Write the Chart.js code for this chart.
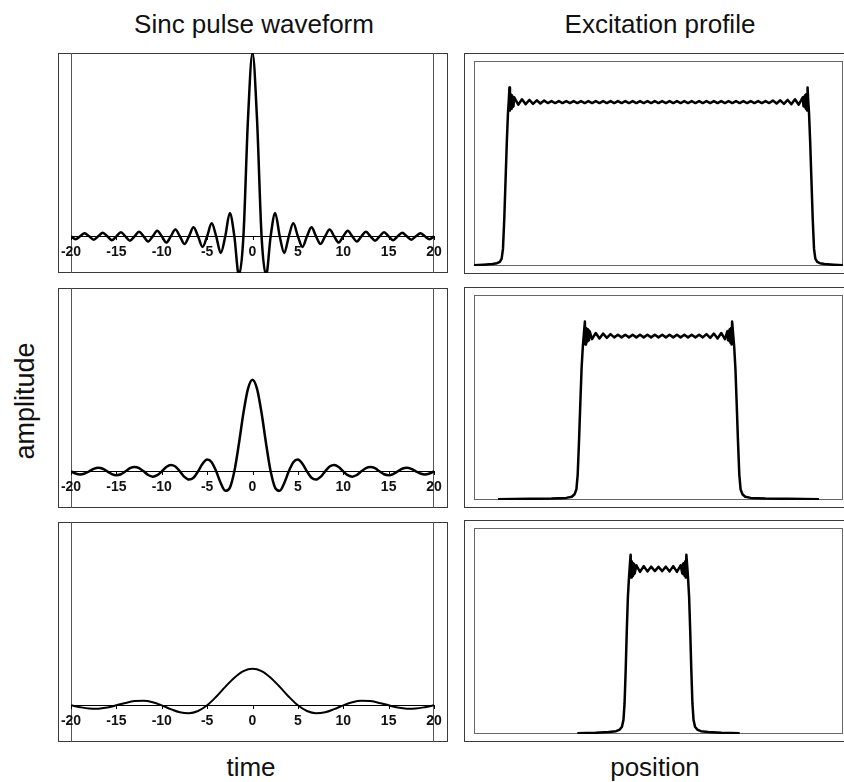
<!DOCTYPE html>
<html>
<head>
<meta charset="UTF-8" />
<title>Sinc pulse and excitation profile</title>
<style>
  body { margin: 0; background: #fff; }
  #page { position: relative; width: 844px; height: 782px; overflow: hidden; background: #fff;
          font-family: "Liberation Sans", Arial, sans-serif; color: #111; }
  canvas { position: absolute; }
  .lbl { position: absolute; font-size: 26px; line-height: 26px; white-space: nowrap; transform: translateX(-50%); }
  .ylbl { position: absolute; font-size: 27px; line-height: 27px; white-space: nowrap;
          transform: translate(-50%, -50%) rotate(-90deg); }
</style>
</head>
<body>
<div id="page">
  <div class="lbl" style="left:254px; top:11px">Sinc pulse waveform</div>
  <div class="lbl" style="left:660px; top:11px">Excitation profile</div>
  <div class="ylbl" style="left:25px; top:401px">amplitude</div>
  <div class="lbl" style="left:251px; top:754px">time</div>
  <div class="lbl" style="left:655px; top:754px">position</div>

  <canvas id="L1" width="410" height="230" style="left:50px; top:48px"></canvas>
  <canvas id="L2" width="410" height="230" style="left:50px; top:283px"></canvas>
  <canvas id="L3" width="410" height="230" style="left:50px; top:517px"></canvas>
  <canvas id="R1" width="389" height="231" style="left:455px; top:48px"></canvas>
  <canvas id="R2" width="389" height="231" style="left:455px; top:282px"></canvas>
  <canvas id="R3" width="389" height="232" style="left:455px; top:515px"></canvas>
</div>

<script src="https://cdn.jsdelivr.net/npm/chart.js"></script>
<script>
// time axis (left column)
const timeTicks = [-20, -15, -10, -5, 0, 5, 10, 15, 20];
const tFine = [-20, -19.5, -19, -18.5, -18, -17.5, -17, -16.5, -16, -15.5, -15, -14.5, -14, -13.5, -13, -12.5,
  -12, -11.5, -11, -10.5, -10, -9.5, -9, -8.5, -8, -7.5, -7, -6.5, -6, -5.5, -5, -4.5, -4, -3.5, -3, -2.5,
  -2, -1.5, -1, -0.5, 0, 0.5, 1, 1.5, 2, 2.5, 3, 3.5, 4, 4.5, 5, 5.5, 6, 6.5, 7, 7.5, 8, 8.5, 9, 9.5,
  10, 10.5, 11, 11.5, 12, 12.5, 13, 13.5, 14, 14.5, 15, 15.5, 16, 16.5, 17, 17.5, 18, 18.5, 19, 19.5, 20];
const tCoarse = [-20, -19, -18, -17, -16, -15, -14, -13, -12, -11, -10, -9, -8, -7, -6, -5, -4, -3, -2, -1,
  0, 1, 2, 3, 4, 5, 6, 7, 8, 9, 10, 11, 12, 13, 14, 15, 16, 17, 18, 19, 20];

// sinc pulses
const sincWide = [0, -0.016, 0, 0.017, 0, -0.018, 0, 0.019, 0, -0.021, 0, 0.022, 0, -0.024, 0, 0.025,
  0, -0.028, 0, 0.030, 0, -0.034, 0, 0.037, 0, -0.042, 0, 0.049, 0, -0.058, 0, 0.071, 0, -0.091, 0, 0.127,
  0, -0.212, 0, 0.637, 1, 0.637, 0, -0.212, 0, 0.127, 0, -0.091, 0, 0.071, 0, -0.058, 0, 0.049, 0, -0.042,
  0, 0.037, 0, -0.034, 0, 0.030, 0, -0.028, 0, 0.025, 0, -0.024, 0, 0.022, 0, -0.021, 0, 0.019, 0, -0.018,
  0, 0.017, 0, -0.016, 0];
const sincMid = [0, -0.012, -0.017, -0.012, 0, 0.013, 0.019, 0.014, 0, -0.015, -0.021, -0.016, 0, 0.017, 0.024, 0.018,
  0, -0.020, -0.029, -0.021, 0, 0.024, 0.035, 0.026, 0, -0.030, -0.045, -0.035, 0, 0.041, 0.064, 0.050,
  0, -0.064, -0.106, -0.090, 0, 0.150, 0.318, 0.450, 0.5, 0.450, 0.318, 0.150, 0, -0.090, -0.106, -0.064,
  0, 0.050, 0.064, 0.041, 0, -0.035, -0.045, -0.030, 0, 0.026, 0.035, 0.024, 0, -0.021, -0.029, -0.020,
  0, 0.018, 0.024, 0.017, 0, -0.016, -0.021, -0.015, 0, 0.014, 0.019, 0.013, 0, -0.012, -0.017, -0.012, 0];
const sincNarrow = [0, -0.010, -0.017, -0.018, -0.012, 0, 0.013, 0.023, 0.025, 0.017, 0, -0.021, -0.038, -0.043, -0.031,
  0, 0.047, 0.101, 0.151, 0.187, 0.2, 0.187, 0.151, 0.101, 0.047, 0, -0.031, -0.043, -0.038, -0.021,
  0, 0.017, 0.025, 0.023, 0.013, 0, -0.012, -0.018, -0.017, -0.010, 0];

// excitation profiles (right column)
const posR1 = [-1.0, -0.95, -0.9, -0.875, -0.86, -0.85, -0.843, -0.836, -0.829, -0.822, -0.816, -0.811, -0.808,
  -0.805, -0.802, -0.799, -0.796, -0.793, -0.79, -0.786, -0.782,
  -0.76, -0.74, -0.72, -0.7, -0.68, -0.66, -0.64, -0.62, -0.6, -0.58, -0.56, -0.54, -0.52, -0.5, -0.48, -0.46,
  -0.44, -0.42, -0.4, -0.38, -0.36, -0.34, -0.32, -0.3, -0.28, -0.26, -0.24, -0.22, -0.2, -0.18, -0.16, -0.14,
  -0.12, -0.1, -0.08, -0.06, -0.04, -0.02, 0, 0.02, 0.04, 0.06, 0.08, 0.1, 0.12, 0.14, 0.16, 0.18, 0.2, 0.22,
  0.24, 0.26, 0.28, 0.3, 0.32, 0.34, 0.36, 0.38, 0.4, 0.42, 0.44, 0.46, 0.48, 0.5, 0.52, 0.54, 0.56, 0.58, 0.6,
  0.62, 0.64, 0.66, 0.68, 0.7, 0.72, 0.74, 0.76,
  0.782, 0.786, 0.79, 0.793, 0.796, 0.799, 0.802, 0.805, 0.808, 0.811, 0.816, 0.822, 0.829, 0.836, 0.843, 0.85,
  0.86, 0.875, 0.9, 0.95, 1.0];
const ampR1 = [0, 0.003, 0.007, 0.012, 0.02, 0.04, 0.1, 0.28, 0.52, 0.76, 0.93, 1.02, 1.09,
  0.95, 1.05, 0.96, 1.045, 0.97, 1.035, 0.975, 1.03,
  0.985, 1.018, 0.988, 1.014, 0.99, 1.012, 0.992, 1.01,
  0.995, 1.007, 0.995, 1.007, 0.995, 1.007, 0.995, 1.007, 0.995, 1.007,
  0.995, 1.007, 0.995, 1.007, 0.995, 1.007, 0.995, 1.007, 0.995, 1.007,
  0.995, 1.007, 0.995, 1.007, 0.995, 1.007, 0.995, 1.007, 0.995, 1.007,
  0.995, 1.007, 0.995, 1.007, 0.995, 1.007, 0.995, 1.007, 0.995, 1.007,
  0.995, 1.007, 0.995, 1.007, 0.995, 1.007, 0.995, 1.007, 0.995, 1.007,
  0.995, 1.007, 0.995, 1.007, 0.995, 1.007, 0.995, 1.007, 0.995, 1.007,
  0.995,
  1.01, 0.992, 1.012, 0.99, 1.014, 0.988, 1.018, 0.985,
  1.03, 0.975, 1.035, 0.97, 1.045, 0.96, 1.05, 0.95, 1.09, 1.02, 0.93, 0.76, 0.52, 0.28, 0.1, 0.04,
  0.02, 0.012, 0.007, 0.003, 0];

const posR2 = [-0.87, -0.7, -0.58, -0.5, -0.47, -0.455, -0.445, -0.438, -0.431, -0.424, -0.417, -0.41, -0.404,
  -0.399, -0.396, -0.393, -0.39, -0.387, -0.384, -0.381, -0.377, -0.373,
  -0.36, -0.34, -0.32, -0.3, -0.28, -0.26, -0.24, -0.22, -0.2, -0.18, -0.16, -0.14, -0.12, -0.1, -0.08, -0.06,
  -0.04, -0.02, 0, 0.02, 0.04, 0.06, 0.08, 0.1, 0.12, 0.14, 0.16, 0.18, 0.2, 0.22, 0.24, 0.26, 0.28, 0.3,
  0.32, 0.34, 0.36,
  0.373, 0.377, 0.381, 0.384, 0.387, 0.39, 0.393, 0.396, 0.399, 0.404, 0.41, 0.417, 0.424, 0.431, 0.438,
  0.445, 0.455, 0.47, 0.5, 0.58, 0.7, 0.87];
const ampR2 = [0, 0.002, 0.004, 0.008, 0.015, 0.03, 0.06, 0.15, 0.35, 0.58, 0.8, 0.94, 1.02,
  1.09, 0.95, 1.05, 0.96, 1.045, 0.97, 1.035, 0.975, 1.03,
  0.982, 1.02, 0.986, 1.016, 0.99, 1.013,
  0.993, 1.009, 0.993, 1.009, 0.993, 1.009, 0.993, 1.009, 0.993, 1.009, 0.993, 1.009,
  0.993, 1.009, 0.993, 1.009, 0.993, 1.009, 0.993, 1.009, 0.993, 1.009, 0.993, 1.009, 0.993,
  1.013, 0.99, 1.016, 0.986, 1.02, 0.982,
  1.03, 0.975, 1.035, 0.97, 1.045, 0.96, 1.05, 0.95, 1.09, 1.02, 0.94, 0.8, 0.58, 0.35, 0.15,
  0.06, 0.03, 0.015, 0.008, 0.004, 0.002, 0];

const posR3 = [-0.44, -0.34, -0.27, -0.23, -0.21, -0.198, -0.19, -0.184, -0.178, -0.172, -0.166, -0.16, -0.155,
  -0.151, -0.148, -0.145, -0.142, -0.139, -0.136, -0.133, -0.129,
  -0.12, -0.1, -0.08, -0.06, -0.04, -0.02, 0, 0.02, 0.04, 0.06, 0.08, 0.1, 0.12,
  0.129, 0.133, 0.136, 0.139, 0.142, 0.145, 0.148, 0.151, 0.155, 0.16, 0.166, 0.172, 0.178, 0.184, 0.19,
  0.198, 0.21, 0.23, 0.27, 0.34, 0.44];
const ampR3 = [0, 0.003, 0.007, 0.012, 0.022, 0.04, 0.08, 0.18, 0.38, 0.62, 0.83, 0.95, 1.03,
  1.09, 0.95, 1.05, 0.96, 1.04, 0.97, 1.035, 0.975,
  1.025, 0.985, 1.02, 0.988, 1.017, 0.99, 1.016, 0.99, 1.017, 0.988, 1.02, 0.985, 1.025,
  0.975, 1.035, 0.97, 1.04, 0.96, 1.05, 0.95, 1.09, 1.03, 0.95, 0.83, 0.62, 0.38, 0.18, 0.08,
  0.04, 0.022, 0.012, 0.007, 0.003, 0];

function points(xs, ys) {
  return xs.map((v, i) => ({ x: v, y: ys[i] }));
}

// frame, zero line and time ticks for the pulse panels
const sincFrame = {
  id: 'sincFrame',
  beforeDatasetsDraw(chart) {
    const { ctx, chartArea: a, scales: { y } } = chart;
    ctx.save();
    ctx.lineWidth = 1;
    ctx.strokeStyle = '#3a3a3a';
    ctx.strokeRect(a.left - 12.5, a.top + 0.5, a.right - a.left + 26, a.bottom - a.top - 1);
    ctx.strokeStyle = '#555';
    ctx.beginPath();
    ctx.moveTo(a.left + 0.5, a.top); ctx.lineTo(a.left + 0.5, a.bottom);
    ctx.moveTo(a.right - 0.5, a.top); ctx.lineTo(a.right - 0.5, a.bottom);
    ctx.stroke();
    const y0 = Math.round(y.getPixelForValue(0)) + 0.5;
    ctx.strokeStyle = '#000';
    ctx.beginPath();
    ctx.moveTo(a.left, y0); ctx.lineTo(a.right, y0);
    ctx.stroke();
    ctx.restore();
  },
  afterDatasetsDraw(chart) {
    const { ctx, scales: { x, y } } = chart;
    const y0 = Math.round(y.getPixelForValue(0));
    ctx.save();
    ctx.fillStyle = '#111';
    ctx.strokeStyle = '#000';
    ctx.font = 'bold 14px "Liberation Sans", Arial, sans-serif';
    ctx.textAlign = 'center';
    ctx.textBaseline = 'middle';
    timeTicks.forEach(t => {
      const px = x.getPixelForValue(t);
      ctx.beginPath();
      ctx.moveTo(Math.round(px) + 0.5, y0); ctx.lineTo(Math.round(px) + 0.5, y0 + 4);
      ctx.stroke();
      ctx.fillText(String(t), px, y0 + 16);
    });
    ctx.restore();
  }
};

// double frame for the profile panels
const profileFrame = {
  id: 'profileFrame',
  beforeDatasetsDraw(chart) {
    const { ctx, chartArea: a } = chart;
    ctx.save();
    ctx.lineWidth = 1;
    ctx.strokeStyle = '#3a3a3a';
    ctx.strokeRect(a.left - 9.5, a.top - 7.5, a.right - a.left + 30, a.bottom - a.top + 15);
    ctx.strokeStyle = '#666';
    ctx.strokeRect(a.left + 0.5, a.top + 0.5, a.right - a.left - 1, a.bottom - a.top - 1);
    ctx.restore();
  }
};

function sincChart(id, times, values, width) {
  return new Chart(document.getElementById(id), {
    type: 'line',
    data: { datasets: [{ data: points(times, values), borderColor: '#000', borderWidth: width,
      pointRadius: 0, cubicInterpolationMode: 'monotone', borderJoinStyle: 'round', fill: false }] },
    options: {
      responsive: false, animation: false, events: [],
      layout: { padding: { left: 21, right: 26, top: 5, bottom: 5 } },
      plugins: { legend: { display: false }, tooltip: { enabled: false } },
      scales: {
        x: { type: 'linear', min: -20, max: 20, display: false },
        y: { min: -0.2, max: 1.0, display: false }
      }
    },
    plugins: [sincFrame]
  });
}

function profileChart(id, pos, amp) {
  return new Chart(document.getElementById(id), {
    type: 'line',
    data: { datasets: [{ data: points(pos, amp), borderColor: '#000', borderWidth: 2.5,
      pointRadius: 0, tension: 0, borderJoinStyle: 'round', fill: false }] },
    options: {
      responsive: false, animation: false, events: [],
      layout: { padding: { left: 19, right: 1, top: 13, bottom: 13 } },
      plugins: { legend: { display: false }, tooltip: { enabled: false } },
      scales: {
        x: { type: 'linear', min: -1, max: 1, display: false },
        y: { min: -0.005, max: 1.253, display: false }
      }
    },
    plugins: [profileFrame]
  });
}

sincChart('L1', tFine, sincWide, 2.5);
sincChart('L2', tFine, sincMid, 2.5);
sincChart('L3', tCoarse, sincNarrow, 2);
profileChart('R1', posR1, ampR1);
profileChart('R2', posR2, ampR2);
profileChart('R3', posR3, ampR3);
</script>
</body>
</html>
